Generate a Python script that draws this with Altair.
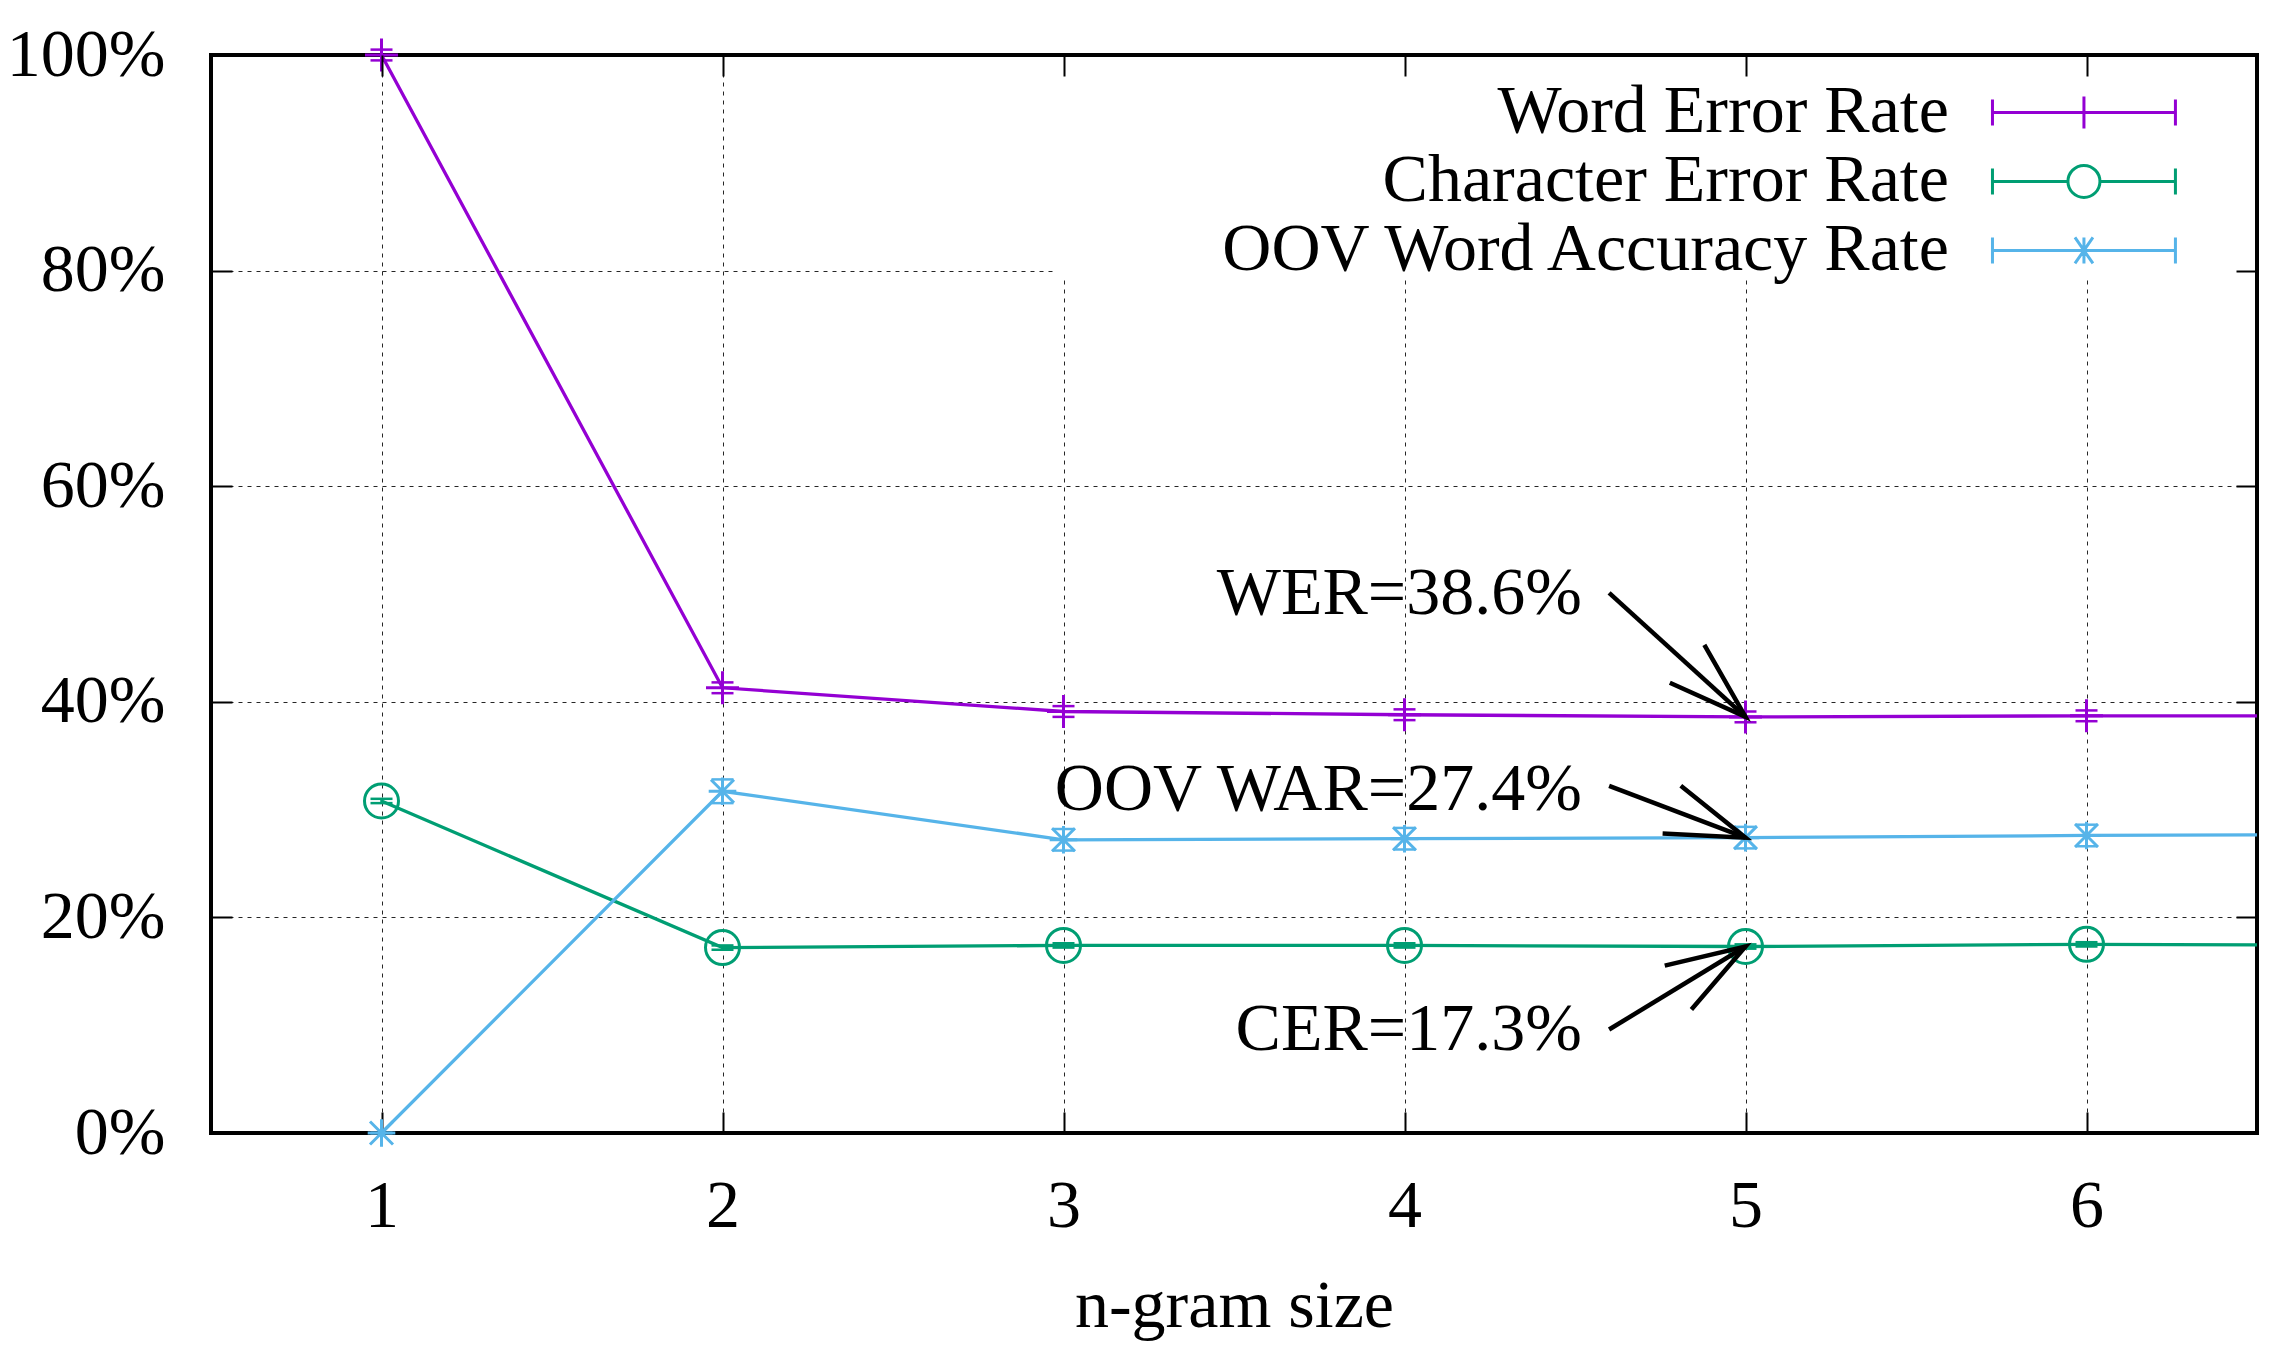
import math
import altair as alt
import pandas as pd

# ---------------- data ----------------
n_gram = [1, 2, 3, 4, 5, 6, 7]
wer = [100.0, 41.3, 39.1, 38.8, 38.6, 38.7, 38.7]
cer = [30.8, 17.2, 17.4, 17.4, 17.3, 17.5, 17.4]
oov = [0.0, 31.7, 27.2, 27.3, 27.4, 27.6, 27.7]
wer_err = [0.5, 0.5, 0.5, 0.5, 0.5, 0.5, 0.5]
cer_err = [0.2, 0.2, 0.2, 0.2, 0.2, 0.2, 0.2]
oov_err = [0.0, 1.1, 1.0, 1.0, 1.0, 1.0, 1.0]

series = ["Word Error Rate", "Character Error Rate", "OOV Word Accuracy Rate"]
colors = ["#9400D3", "#009E73", "#56B4E9"]

x_ticks = [1, 2, 3, 4, 5, 6]
y_ticks = [0, 20, 40, 60, 80, 100]

ann_text = ["WER=38.6%", "OOV WAR=27.4%", "CER=17.3%"]
ann_text_x = [4.52, 4.52, 4.52]
ann_text_y = [50.0, 31.8, 9.6]
ann_from_x = [4.60, 4.60, 4.60]
ann_from_y = [50.1, 32.2, 9.6]
ann_to_x = [5, 5, 5]
ann_to_y = [38.6, 27.4, 17.3]

# opaque key box (in data units, as gnuplot draws it)
key_box_x = [2.98, 6.45]
key_box_y = [79.3, 99.8]

# ---------------- layout / style ----------------
W, H = 2046, 1078
X_DOM = [0.5, 6.5]
Y_DOM = [0, 100]
FONT = "Liberation Serif"
FS = 68
TICK = 21

rows = []
for name, vals, errs in zip(series, [wer, cer, oov], [wer_err, cer_err, oov_err]):
    for n, v, e in zip(n_gram, vals, errs):
        rows.append({"series": name, "n": n, "value": v, "lo": v - e, "hi": v + e})
df = pd.DataFrame(rows)

px_x = W / (X_DOM[1] - X_DOM[0])
px_y = H / (Y_DOM[1] - Y_DOM[0])
angles = []
for fx, fy, tx, ty in zip(ann_from_x, ann_from_y, ann_to_x, ann_to_y):
    dx = (tx - fx) * px_x
    dy = -(ty - fy) * px_y
    angles.append(math.degrees(math.atan2(dx, -dy)) % 360)
ann = pd.DataFrame({
    "label": ann_text, "tx": ann_text_x, "ty": ann_text_y,
    "fx": ann_from_x, "fy": ann_from_y, "tox": ann_to_x, "toy": ann_to_y,
    "ang": angles,
})
key_df = pd.DataFrame({"x1": [key_box_x[0]], "x2": [key_box_x[1]],
                       "y1": [key_box_y[0]], "y2": [key_box_y[1]]})

xs = alt.Scale(domain=X_DOM, nice=False, zero=False)
ys = alt.Scale(domain=Y_DOM, nice=False, zero=False)
cs = alt.Scale(domain=series, range=colors)

axis_x_main = alt.Axis(orient="bottom", values=x_ticks, offset=-TICK, tickSize=TICK, tickWidth=2,
                       tickColor="black", domain=False, grid=False, labelFont=FONT, labelFontSize=FS,
                       labelColor="black", labelPadding=39, title="n-gram size", titleFont=FONT,
                       titleFontSize=FS, titleFontWeight="normal", titleColor="black",
                       titleBaseline="alphabetic", titleY=214)
axis_y_main = alt.Axis(orient="left", values=y_ticks, offset=-TICK, tickSize=TICK, tickWidth=2,
                       tickColor="black", domain=False, grid=False, labelFont=FONT, labelFontSize=FS,
                       labelColor="black", labelPadding=46, labelExpr="datum.value + '%'", title=None)
axis_x_grid = alt.Axis(orient="bottom", values=x_ticks, grid=True, gridColor="black", gridWidth=1,
                       gridDash=[4, 5], gridOpacity=0.85, labels=False, ticks=False, domain=False, title=None)
axis_y_grid = alt.Axis(orient="left", values=y_ticks, grid=True, gridColor="black", gridWidth=1,
                       gridDash=[4, 5], gridOpacity=0.85, labels=False, ticks=False, domain=False, title=None)
axis_x_top = alt.Axis(orient="top", values=x_ticks, offset=-TICK, tickSize=TICK, tickWidth=2,
                      tickColor="black", labels=False, domain=False, grid=False, title=None, zindex=1)
axis_y_right = alt.Axis(orient="right", values=y_ticks, offset=-TICK, tickSize=TICK, tickWidth=2,
                        tickColor="black", labels=False, domain=False, grid=False, title=None, zindex=1)

color_enc = alt.Color("series:N", scale=cs, title=None)

base = alt.Chart(df)

key_bg = alt.Chart(key_df).mark_rect(color="white", opacity=1).encode(
    x=alt.X("x1:Q", scale=xs, axis=None),
    x2="x2:Q",
    y=alt.Y("y1:Q", scale=ys, axis=None),
    y2="y2:Q",
)

lines = base.mark_line(clip=True, strokeWidth=3.3).encode(
    x=alt.X("n:Q", scale=xs, axis=axis_x_main),
    y=alt.Y("value:Q", scale=ys, axis=axis_y_main),
    color=color_enc,
    detail="series:N",
)

err = base.transform_filter("datum.n <= 6").mark_rule(strokeWidth=2.5).encode(
    x=alt.X("n:Q", scale=xs, axis=axis_x_grid),
    y=alt.Y("lo:Q", scale=ys, axis=axis_y_grid),
    y2="hi:Q",
    color=color_enc,
)

caps = base.transform_filter("datum.n <= 6").transform_fold(
    ["lo", "hi"], as_=["bound", "yv"]
).mark_point(shape="M-1,0H1", size=484, filled=False, strokeWidth=2.5, opacity=1).encode(
    x=alt.X("n:Q", scale=xs, axis=axis_x_top),
    y=alt.Y("yv:Q", scale=ys, axis=axis_y_right),
    color=color_enc,
)

marker_shapes = {
    "Word Error Rate": ("M-1,0H1M0,-1V1", 1089),
    "Character Error Rate": ("circle", 1156),
    "OOV Word Accuracy Rate": ("M-1,-1L1,1M-1,1L1,-1M0,-1.2V1.2M-1.2,0H1.2", 529),
}
marker_layers = []
for s in series:
    shp, sz = marker_shapes[s]
    marker_layers.append(
        base.transform_filter(f"datum.series == '{s}' && datum.n <= 6").mark_point(
            shape=shp, size=sz, filled=False, strokeWidth=3, opacity=1
        ).encode(
            x=alt.X("n:Q", scale=xs, axis=None),
            y=alt.Y("value:Q", scale=ys, axis=None),
            color=color_enc,
        )
    )

# key samples: line with error-bar caps and the point symbol (unit = 33.05 px)
legend_paths = [
    "M-2.768,0H2.768M-2.768,-0.393V0.393M2.768,-0.393V0.393M0,-0.484V0.484",
    "M-2.768,0H-0.484M0.484,0H2.768M-2.768,-0.393V0.393M2.768,-0.393V0.393"
    "M0.484,0A0.484,0.484 0 1,1 -0.484,0A0.484,0.484 0 1,1 0.484,0",
    "M-2.768,0H2.768M-2.768,-0.393V0.393M2.768,-0.393V0.393M0,-0.393V0.393"
    "M-0.272,-0.393L0.272,0.393M-0.272,0.393L0.272,-0.393",
]
legend_layer = base.transform_filter("datum.n > 100").mark_point(filled=False, opacity=1).encode(
    x=alt.X("n:Q", scale=xs, axis=None),
    y=alt.Y("value:Q", scale=ys, axis=None),
    color=color_enc,
    shape=alt.Shape("series:N", scale=alt.Scale(domain=series, range=legend_paths), title=None),
)

abase = alt.Chart(ann)
ann_text_layer = abase.mark_text(align="right", baseline="middle", font=FONT, fontSize=FS,
                                 color="black").encode(
    x=alt.X("tx:Q", scale=xs, axis=None),
    y=alt.Y("ty:Q", scale=ys, axis=None),
    text="label:N",
)
arrows = abase.mark_rule(strokeWidth=4.5, color="black").encode(
    x=alt.X("fx:Q", scale=xs, axis=None),
    y=alt.Y("fy:Q", scale=ys, axis=None),
    x2="tox:Q",
    y2="toy:Q",
)
heads = abase.mark_point(shape="M-0.309,0.951L0,0L0.309,0.951", size=27556, filled=False,
                         strokeWidth=4.5, color="black", opacity=1).encode(
    x=alt.X("tox:Q", scale=xs, axis=None),
    y=alt.Y("toy:Q", scale=ys, axis=None),
    angle=alt.Angle("ang:Q", scale=None),
)

chart = alt.layer(
    key_bg, lines, err, caps, *marker_layers, legend_layer, arrows, heads, ann_text_layer
).resolve_axis(
    x="independent", y="independent"
).properties(
    width=W, height=H,
    autosize=alt.AutoSizeParams(type="none"),
    padding={"left": 203, "top": 47, "right": 12, "bottom": 222},
    background="white",
).configure_view(
    stroke="black", strokeWidth=4
).configure_legend(
    orient="none", legendX=1837.95, legendY=22.45,
    labelFont=FONT, labelFontSize=FS, labelColor="black", labelAlign="right",
    labelOffset={"expr": "-170.05"}, labelLimit=2000, symbolSize=4369, symbolStrokeWidth=3,
    rowPadding=0, padding=0,
)

chart.save("out.html", embed_options={"renderer": "svg", "actions": False})
